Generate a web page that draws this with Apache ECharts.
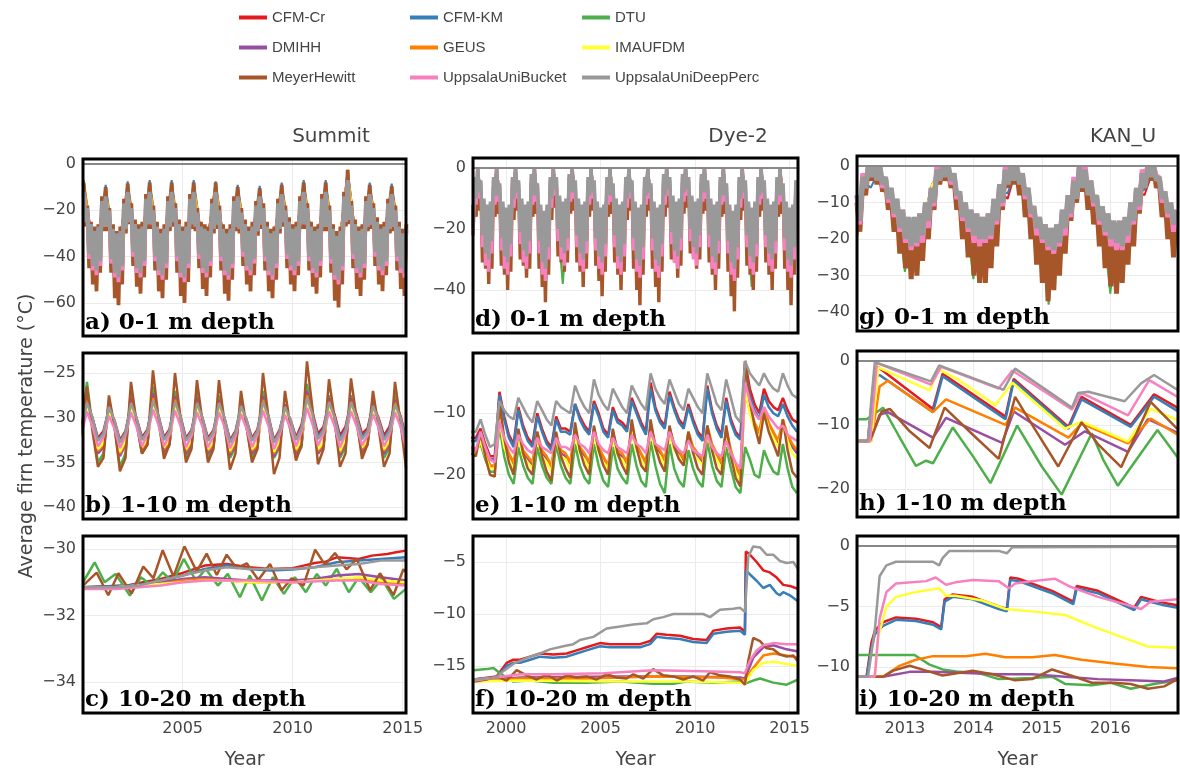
<!DOCTYPE html>
<html>
<head>
<meta charset="utf-8">
<title>Average firn temperature</title>
<script src="https://cdn.jsdelivr.net/npm/echarts@6/dist/echarts.min.js"></script>
<style>
html, body { margin: 0; padding: 0; background: #fff; }
#chart { width: 1180px; height: 773px; }
</style>
</head>
<body>
<div id="chart"></div>
<script>
//---------------- models / colours ----------------//
var models = ['CFM-Cr', 'CFM-KM', 'DTU', 'DMIHH', 'GEUS', 'IMAUFDM', 'MeyerHewitt', 'UppsalaUniBucket', 'UppsalaUniDeepPerc'];
var colors = ['#e41a1c', '#377eb8', '#4daf4a', '#984ea3', '#ff7f00', '#ffff33', '#a65628', '#f781bf', '#999999'];
var sites = ['Summit', 'Dye-2', 'KAN_U'];
var panelLabels = ['a) 0-1 m depth', 'd) 0-1 m depth', 'g) 0-1 m depth',
                   'b) 1-10 m depth', 'e) 1-10 m depth', 'h) 1-10 m depth',
                   'c) 10-20 m depth', 'f) 10-20 m depth', 'i) 10-20 m depth'];

// tick values: x per column, y per panel (row-major: a d g / b e h / c f i)
var xTicks = [[2005, 2010, 2015], [2000, 2005, 2010, 2015], [2013, 2014, 2015, 2016]];
var yTicks = [[0, -20, -40, -60], [0, -20, -40], [0, -10, -20, -30, -40],
              [-25, -30, -35, -40], [-10, -20], [0, -10, -20],
              [-30, -32, -34], [-5, -10, -15], [0, -5, -10]];

//---------------- a) Summit 0-1 m ----------------//
// monthly from Jul 2000 (noisy: alternating highs / lows)
var sum01_meyer = [
-8,-27,-18,-45,-25,-52,-27,-55,-26,-47,-14,-29,
-10,-29,-19,-47,-26,-58,-29,-61,-27,-52,-15,-30,
-8.5,-26,-17,-44,-24,-53,-26,-56,-25,-49,-13,-28,
-8,-28,-18,-46,-25,-55,-28,-58,-26,-50,-14,-29,
-8,-27,-17,-47,-24,-57,-27,-60,-25,-51,-13,-28,
-8,-29,-19,-45,-25,-54,-26,-57,-27,-49,-15,-30,
-8,-28,-18,-46,-26,-56,-28,-59,-26,-50,-14,-29,
-10,-30,-19,-44,-24,-52,-27,-55,-25,-48,-16,-31,
-10.5,-28,-17,-46,-25,-55,-28,-58,-27,-50,-15,-30,
-9,-27,-18,-45,-23,-52,-26,-55,-25,-48,-14,-28,
-8,-28,-17,-46,-25,-53,-27,-56,-26,-49,-13,-29,
-8,-29,-18,-47,-26,-59,-29,-62,-27,-52,-12,-27,
-2.5,-26,-16,-45,-24,-54,-27,-57,-26,-50,-14,-29,
-9,-28,-17,-44,-23,-52,-26,-55,-25,-48,-15,-30,
-9.5,-29,-18,-46,-25,-54,-28,-57,-26];
var sum01_bucket = [
-13,-25,-20,-41,-27,-46,-30,-48,-28,-44,-17,-27,
-15,-27,-21,-43,-29,-49,-31,-51,-30,-46,-18,-28,
-13,-25,-20,-40,-27,-47,-29,-49,-28,-44,-16,-26,
-13,-26,-21,-42,-28,-48,-31,-50,-29,-45,-17,-27,
-13,-25,-20,-42,-27,-49,-30,-51,-28,-45,-16,-26,
-13,-27,-22,-41,-28,-47,-29,-49,-30,-44,-18,-28,
-13,-26,-21,-42,-29,-48,-31,-50,-29,-45,-17,-27,
-15,-28,-22,-40,-27,-46,-30,-48,-28,-43,-19,-29,
-15,-26,-20,-42,-28,-48,-31,-50,-30,-45,-18,-28,
-14,-25,-21,-41,-26,-46,-29,-48,-28,-44,-17,-26,
-13,-26,-20,-42,-28,-47,-30,-49,-29,-44,-16,-27,
-13,-27,-21,-43,-29,-50,-32,-52,-30,-46,-15,-25,
-8,-24,-19,-41,-27,-47,-30,-49,-29,-45,-17,-27,
-14,-26,-20,-40,-26,-46,-29,-48,-28,-44,-18,-28,
-14,-27,-21,-42,-28,-47,-31,-49,-29];
var sum01_deep = [
-12,-25,-19,-39,-26,-44,-29,-46,-27,-42,-16,-27,
-14,-27,-20,-41,-28,-47,-30,-49,-29,-44,-17,-28,
-12,-25,-19,-38,-26,-45,-28,-47,-27,-42,-15,-26,
-12,-26,-20,-40,-27,-46,-30,-48,-28,-43,-16,-27,
-12,-25,-19,-40,-26,-47,-29,-49,-27,-43,-15,-26,
-12,-27,-21,-39,-27,-45,-28,-47,-29,-42,-17,-28,
-12,-26,-20,-40,-28,-46,-30,-48,-28,-43,-16,-27,
-14,-28,-21,-38,-26,-44,-29,-46,-27,-41,-18,-29,
-14,-26,-19,-40,-27,-46,-30,-48,-29,-43,-17,-28,
-13,-25,-20,-39,-25,-44,-28,-46,-27,-42,-16,-26,
-12,-26,-19,-40,-27,-45,-29,-47,-28,-42,-15,-27,
-12,-27,-20,-41,-28,-48,-31,-50,-29,-44,-14,-25,
-7,-24,-18,-39,-26,-45,-29,-47,-28,-43,-16,-27,
-13,-26,-19,-38,-25,-44,-28,-46,-27,-42,-17,-28,
-13,-27,-20,-40,-27,-45,-30,-47,-28];
// the other models only show at the summer maxima: July / January values
var sum01_cfmcr = [-9,-40,-11,-43,-9.5,-41,-9,-42,-9,-43,-9,-41,-9,-42,-11,-40,-11.5,-42,-10,-40,-9,-41,-9,-44,-3.5,-42,-10,-40,-10.5,-41];
var sum01_cfmkm = [-7,-41,-9,-44,-7.5,-42,-7,-43,-7,-44,-7,-42,-7.5,-43,-9,-41,-9.5,-43,-8,-41,-7,-42,-7,-45,-2.5,-43,-8,-41,-8.5,-42];
var sum01_dtu   = [-10,-43,-12,-46,-10,-43,-10,-44,-10,-45,-10,-43,-10,-44,-12,-42,-12,-44,-11,-42,-10,-43,-10,-46,-5,-44,-11,-42,-11.5,-43];
var sum01_dmihh = [-10,-40,-12,-42,-10,-40,-10,-41,-10,-42,-10,-40,-10,-41,-12,-39,-12,-41,-11,-39,-10,-40,-10,-43,-5,-41,-11,-39,-11,-40];
var sum01_geus  = [-7.5,-41,-10.5,-43,-9,-41,-8.5,-42,-8.5,-43,-8.5,-41,-8.5,-42,-10.5,-40,-11,-42,-9.5,-40,-8.5,-41,-8.5,-44,-3,-42,-9.5,-40,-10,-41];
var sum01_imau  = [-10,-42,-12,-44,-10.5,-42,-10,-43,-10,-44,-10,-42,-10,-43,-12,-41,-12.5,-43,-11,-41,-10,-42,-10,-45,-4.5,-43,-11,-41,-11.5,-42];

//---------------- d) Dye-2 0-1 m ----------------//
// monthly from Mar 1998
var dye01_meyer = [
-14,-22,-6,-16,
0,-14,-7,-31,-14,-33,-16,-38,-15,-33,-6,-16,
0,-15,-8,-32,-15,-35,-17,-40,-16,-34,-6,-17,
0,-14,-7,-30,-14,-32,-16,-36,-15,-33,-5,-16,
0,-15,-8,-33,-16,-39,-18,-44,-16,-35,-6,-17,
0,-13,-6,-29,-13,-31,-15,-34,-14,-31,-5,-15,
0,-14,-7,-31,-14,-34,-16,-39,-15,-33,-6,-16,
0,-14,-7,-32,-15,-37,-17,-42,-16,-34,-6,-16,
0,-15,-8,-31,-14,-35,-16,-40,-15,-34,-6,-17,
0,-14,-7,-33,-15,-40,-17,-45,-16,-35,-6,-16,
0,-14,-8,-33,-15,-39,-17,-44,-16,-34,-5,-16,
0,-13,-6,-30,-13,-31,-15,-36,-14,-32,-5,-15,
0,-13,-6,-28,-13,-29,-15,-33,-14,-30,-5,-15,
0,-14,-7,-31,-14,-35,-16,-40,-15,-33,-6,-16,
0,-15,-8,-34,-16,-42,-18,-47,-16,-36,-6,-17,
0,-14,-7,-32,-15,-35,-17,-40,-15,-34,-6,-16,
0,-14,-7,-31,-14,-35,-16,-40,-15,-33,-6,-16,
0,-15,-8,-33,-15,-40,-17,-45,-16,-35,-7,-17];
var dye01_bucket = [
-13,-22,-4,-12,
0,-10,-5,-26,-11,-32,-13,-34,-12,-28,-4,-12,
0,-11,-6,-27,-12,-33,-14,-35,-13,-29,-4,-13,
0,-10,-5,-25,-11,-31,-13,-33,-12,-28,-3,-12,
0,-11,-6,-28,-13,-35,-15,-37,-13,-30,-4,-13,
0,-9,-4,-24,-10,-30,-12,-32,-11,-27,-3,-11,
0,-10,-5,-26,-11,-32,-13,-34,-12,-28,-4,-12,
0,-10,-5,-27,-12,-33,-14,-35,-13,-29,-4,-12,
0,-11,-6,-26,-11,-33,-13,-35,-12,-29,-4,-13,
0,-10,-5,-27,-12,-34,-14,-36,-13,-30,-4,-12,
0,-10,-6,-27,-12,-34,-14,-36,-13,-29,-3,-12,
0,-9,-4,-25,-10,-31,-12,-33,-11,-27,-3,-11,
0,-9,-4,-24,-10,-30,-12,-32,-11,-26,-3,-11,
0,-10,-5,-26,-11,-33,-13,-35,-12,-28,-4,-12,
0,-11,-6,-28,-13,-35,-15,-37,-13,-30,-4,-13,
0,-10,-5,-26,-12,-33,-14,-35,-12,-29,-4,-12,
0,-10,-5,-26,-11,-32,-13,-34,-12,-28,-4,-12,
0,-11,-6,-27,-12,-34,-14,-36,-13,-30,-5,-13];
var dye01_deep = [
-12,-20,-3,-10,
0,-8,-4,-22,-10,-28,-12,-30,-11,-24,-3,-9,
0,-9,-5,-23,-11,-29,-13,-31,-12,-25,-3,-10,
0,-8,-4,-21,-10,-27,-12,-29,-11,-24,-2,-9,
0,-9,-5,-24,-12,-31,-14,-33,-12,-26,-3,-10,
0,-7,-3,-20,-9,-26,-11,-28,-10,-23,-2,-8,
0,-8,-4,-22,-10,-28,-12,-30,-11,-24,-3,-9,
0,-8,-4,-23,-11,-29,-13,-31,-12,-25,-3,-9,
0,-9,-5,-22,-10,-29,-12,-31,-11,-25,-3,-10,
0,-8,-4,-23,-11,-30,-13,-32,-12,-26,-3,-9,
0,-8,-5,-23,-11,-30,-13,-32,-12,-25,-2,-9,
0,-7,-3,-21,-9,-27,-11,-29,-10,-23,-2,-8,
0,-7,-3,-20,-9,-26,-11,-28,-10,-22,-2,-8,
0,-8,-4,-22,-10,-29,-12,-31,-11,-24,-3,-9,
0,-9,-5,-24,-12,-31,-14,-33,-12,-26,-3,-10,
0,-8,-4,-22,-11,-29,-13,-31,-11,-25,-3,-9,
0,-8,-4,-22,-10,-28,-12,-30,-11,-24,-3,-9,
0,-9,-5,-23,-11,-30,-13,-32,-12,-26,-4,-10];
// July / January values from Jul 1998
var dye01_cfmcr = [0,-25,0,-26,0,-24,0,-27,0,-23,0,-25,0,-26,0,-26,0,-27,0,-27,0,-24,0,-23,0,-26,0,-27,0,-26,0,-25,0,-27];
var dye01_cfmkm = [0,-26,0,-27,0,-25,0,-28,0,-24,0,-26,0,-27,0,-27,0,-28,0,-28,0,-25,0,-24,0,-27,0,-28,0,-27,0,-26,0,-28];
var dye01_dtu   = [0,-27,0,-28,0,-27,0,-29,0,-38,0,-28,0,-29,0,-28,0,-30,0,-30,0,-27,0,-26,0,-28,0,-30,0,-39,0,-28,0,-30];
var dye01_dmihh = [0,-24,0,-25,0,-23,0,-26,0,-22,0,-24,0,-25,0,-25,0,-26,0,-26,0,-23,0,-22,0,-25,0,-26,0,-25,0,-24,0,-26];
var dye01_geus  = [0,-25,0,-26,0,-24,0,-27,0,-23,0,-25,0,-26,0,-26,0,-27,0,-27,0,-24,0,-23,0,-26,0,-27,0,-26,0,-25,0,-27];
var dye01_imau  = [0,-26,0,-27,0,-25,0,-28,0,-24,0,-26,0,-27,0,-27,0,-28,0,-28,0,-25,0,-24,0,-27,0,-28,0,-27,0,-26,0,-28];

//---------------- g) KAN_U 0-1 m ----------------//
// half-monthly from 2012.3
var kan01_meyer = [
-10,-18,-4,-8,0,-4,0,-5,-1,-7,-4,-12,-8,-18,-11,-24,-14,-28,-16,-31,-15,-30,-14,-26,
-11,-20,-7,-12,-1,-5,0,-4,-1,-6,-3,-12,-8,-20,-11,-25,-13,-30,-14,-32,-15,-32,-14,-28,
-10,-22,-6,-12,-1,-6,0,-5,-1,-8,-3,-14,-7,-20,-12,-27,-15,-32,-17,-37,-18,-34,-17,-30,
-13,-24,-9,-15,-5,-10,0,-7,-2,-12,-5,-16,-9,-22,-12,-28,-14,-33,-16,-35,-16,-32,-15,-27,
-11,-22,-7,-13,-2,-6,0,-4,0,-6,-4,-14,-8,-20,-11,-25,-13];
var kan01_bucket = [
-8,-16,-2,-6,0,-2,0,-3,0,-6,-3,-10,-6,-14,-9,-18,-12,-21,-14,-23,-14,-22,-13,-21,
-10,-17,-6,-11,0,-4,0,-2,0,-5,-2,-9,-7,-15,-10,-18,-12,-21,-13,-22,-14,-21,-13,-20,
-9,-16,-5,-11,0,-3,0,-2,0,-4,-2,-9,-6,-14,-11,-19,-14,-21,-16,-23,-17,-24,-16,-22,
-12,-19,-8,-14,-3,-8,0,-3,0,-7,-4,-11,-8,-16,-11,-19,-13,-22,-15,-23,-15,-23,-14,-21,
-10,-16,-6,-12,-1,-3,0,-2,0,-3,-3,-10,-7,-14,-10,-18,-12];
var kan01_deep = [
-8,-15,-3,-6,0,-3,0,-4,0,-5,-3,-9,-6,-13,-9,-17,-12,-20,-14,-22,-14,-21,-13,-19,
-10,-15,-6,-10,-1,-4,0,-3,0,-4,-2,-8,-7,-14,-10,-17,-12,-19,-13,-20,-14,-20,-13,-19,
-9,-15,-5,-10,-1,-5,0,-4,0,-5,-2,-8,-6,-13,-11,-17,-14,-20,-16,-22,-17,-23,-16,-21,
-12,-17,-8,-13,-4,-9,0,-6,-1,-8,-4,-10,-8,-15,-11,-18,-13,-20,-15,-21,-15,-22,-14,-19,
-10,-15,-6,-11,-2,-6,0,-3,0,-4,-3,-9,-7,-13,-10,-16,-12];
// every 0.1 yr from 2012.3; these run inside the band and only poke out here and there
var kan01_cfmcr = [-11,-4,-2,-2.5,-6,-9.5,-13,-16,-18,-16.5,-12.5,-5,-2.5,-2.5,-5,-10.5,-14.5,-16,-17,-16,-12,-7,-9,-2.5,-5,-9.5,-14,-17,-19.5,-19,-14.5,-10,-4.5,-4,-7.5,-13,-16.5,-18,-18.5,-16.5,-12.5,-7,-8,-2.5,-5,-10,-13.5,-14];
var kan01_cfmkm = [-11,-4,-6,-2,-6,-9.5,-13,-16,-18,-16.5,-12.5,-5,-2,-2.5,-5,-10.5,-14.5,-16,-17,-16,-12,-7,-7.5,-2.5,-5,-9.5,-14,-17,-19.5,-19,-14.5,-10,-4,-4.5,-7.5,-13,-16.5,-18,-18.5,-16.5,-12.5,-7,-6.5,-2.5,-5,-10,-13.5,-14];
var kan01_dtu   = [-11,-4,-2,-2,-6,-9.5,-13,-29,-18,-16.5,-12.5,-5,-2,-2,-5,-10.5,-14.5,-31,-17,-16,-12,-7,-2.5,-2.5,-5,-9.5,-14,-17,-38,-19,-14.5,-10,-4,-4,-7.5,-13,-16.5,-35,-18.5,-16.5,-12.5,-7,-2,-2,-5,-10,-22,-14];
var kan01_dmihh = [-11,-4,-2,-2,-6,-9.5,-13,-16,-18,-16.5,-12.5,-5,-2,-2,-5,-10.5,-14.5,-16,-17,-16,-12,-7,-2.5,-2.5,-5,-9.5,-14,-17,-19.5,-19,-14.5,-10,-4,-4,-7.5,-13,-16.5,-18,-18.5,-16.5,-12.5,-7,-2,-2,-5,-10,-13.5,-14];
var kan01_geus  = [-20,-4,-2,-2,-6,-9.5,-13,-16,-18,-16.5,-12.5,-5,-2,-2,-5,-10.5,-14.5,-16,-17,-16,-12,-7,-2.5,-2.5,-5,-9.5,-14,-17,-19.5,-19,-14.5,-10,-4,-4,-7.5,-13,-16.5,-18,-18.5,-16.5,-12.5,-7,-2,-2,-5,-10,-13.5,-14];
var kan01_imau  = [-11,-4,-2,-2,-6,-9.5,-13,-16,-21,-16.5,-12.5,-5,-2,-2,-5,-10.5,-14.5,-16,-20,-16,-12,-7,-2.5,-2.5,-5,-9.5,-14,-17,-23,-19,-14.5,-10,-4,-4,-7.5,-13,-16.5,-18,-22,-16.5,-12.5,-7,-2,-2,-5,-10,-13.5,-14];

//---------------- b) Summit 1-10 m ----------------//
// quarterly from 2000.4
var sum110_cfmcr = [-31.3,-28.2,-30,-32.3,-31.5,-29,-30.3,-32.5,-31.5,-28.5,-30,-32.2,-31.3,-28.2,-29.8,-32.2,-31.3,-28.3,-29.8,-32.3,-31.4,-28.5,-30,-32.3,-31.4,-28.5,-30,-32.5,-31.5,-28.8,-30.2,-32.3,-31.3,-28.3,-29.8,-32.5,-31.4,-29,-30.2,-32.2,-30.8,-27.6,-29.4,-31.8,-31,-28.2,-29.6,-32,-31,-28.2,-29.6,-31.8,-31.2,-28.6,-30,-32,-31,-28.3,-29.8,-32.2];
var sum110_cfmkm = [-31.4,-28.4,-30.1,-32.5,-31.7,-29.2,-30.5,-32.7,-31.7,-28.7,-30.2,-32.4,-31.5,-28.4,-30,-32.4,-31.5,-28.5,-30,-32.5,-31.6,-28.7,-30.2,-32.5,-31.6,-28.7,-30.2,-32.7,-31.7,-29,-30.4,-32.5,-31.5,-28.5,-30,-32.7,-31.6,-29.2,-30.4,-32.4,-31.1,-27.9,-29.7,-32.1,-31.3,-28.5,-29.9,-32.3,-31.3,-28.5,-29.9,-32.1,-31.5,-28.9,-30.3,-32.3,-31.3,-28.6,-30.1,-32.5];
var sum110_dtu   = [-31.5,-26,-31,-35,-34,-28,-31,-35.5,-34,-27,-30.5,-34,-33,-26.5,-30.5,-34,-33,-27,-30.5,-34.5,-33.3,-27,-30.5,-34.5,-33.3,-27.5,-31,-34.5,-33.3,-28,-31,-34.5,-33.3,-27,-30.5,-34.5,-33.3,-28.5,-31.5,-34.5,-33.3,-26.2,-30,-34,-33,-27.5,-30.5,-34.5,-33.3,-27.5,-30.5,-34,-33,-28,-31,-34.5,-33.3,-27.5,-30.5,-34.5];
var sum110_dmihh = [-32,-27.5,-30.5,-34,-33.3,-28.5,-30.8,-34.3,-33,-27.8,-30.3,-33.7,-32.8,-27.3,-30,-33.8,-33,-27.6,-30.2,-34,-33,-27.8,-30.3,-34,-33.2,-28,-30.5,-34.2,-33,-28.3,-30.7,-34,-33.2,-27.6,-30.2,-34.3,-33,-28.5,-30.8,-34,-33,-27,-29.8,-34,-33.2,-27.8,-30.2,-34.2,-32.8,-27.8,-30.2,-33.8,-33,-28.3,-30.7,-34,-33,-28,-30.5,-34];
var sum110_geus  = [-32,-28,-30.3,-33.7,-33,-29,-30.8,-34,-32.7,-28.3,-30.3,-33.5,-32.5,-27.8,-30,-33.5,-32.7,-28,-30,-33.7,-32.7,-28.3,-30.3,-33.7,-32.9,-28.3,-30.3,-33.9,-32.7,-28.7,-30.6,-33.7,-33,-28,-30,-34,-32.7,-28.8,-30.6,-33.7,-32.7,-27.5,-29.8,-33.7,-32.9,-28.2,-30,-33.9,-32.5,-28.2,-30,-33.5,-32.7,-28.7,-30.5,-33.7,-32.7,-28.3,-30.3,-33.7];
var sum110_imau  = [-32,-28.5,-30.5,-33.5,-32.8,-29.5,-31,-33.8,-32.5,-28.8,-30.5,-33.3,-32.3,-28.3,-30.3,-33.3,-32.5,-28.5,-30.3,-33.5,-32.5,-28.8,-30.5,-33.5,-32.7,-28.8,-30.5,-33.7,-32.5,-29.2,-30.8,-33.5,-32.8,-28.5,-30.3,-33.8,-32.5,-29.3,-30.8,-33.5,-32.5,-28,-30,-33.5,-32.7,-28.7,-30.3,-33.7,-32.3,-28.7,-30.3,-33.3,-32.5,-29.2,-30.7,-33.5,-32.5,-28.8,-30.5,-33.5];
var sum110_meyer = [-31.5,-26.5,-31.5,-35.5,-34.5,-27.5,-31,-36,-34.5,-26,-30.5,-34,-33,-24.7,-30,-34.6,-33,-25,-30,-35,-33.5,-25.8,-30.5,-35,-33.5,-25.8,-30.5,-35.8,-34,-27,-31,-35,-33.5,-25,-30,-36.3,-34.5,-27,-31,-34.8,-33,-23.7,-29,-35.2,-33.5,-25.7,-30,-35.5,-34,-25.6,-30,-34.6,-33,-27,-31,-35.5,-34,-26,-30.5,-35.6];
var sum110_bucket = [-31.8,-29.3,-31,-33.2,-32.2,-29.8,-31.2,-33.4,-32,-29.4,-31,-33.2,-31.8,-29.1,-30.8,-33.2,-31.9,-29.2,-30.9,-33.3,-32,-29.4,-31,-33.3,-32,-29.4,-31,-33.4,-32.1,-29.6,-31.2,-33.3,-31.9,-29.2,-30.9,-33.5,-32,-29.7,-31.2,-33.2,-31.6,-28.9,-30.7,-33.1,-31.8,-29.3,-30.9,-33.3,-31.8,-29.3,-30.9,-33.1,-32,-29.6,-31.1,-33.2,-31.9,-29.4,-31,-33.4];
var sum110_deep  = [-31.5,-28.3,-30,-32.6,-31.8,-28.8,-30.3,-32.8,-31.7,-28.4,-30,-32.5,-31.5,-28.1,-29.8,-32.5,-31.5,-28.2,-29.9,-32.6,-31.6,-28.4,-30,-32.6,-31.6,-28.4,-30,-32.8,-31.7,-28.7,-30.2,-32.6,-31.5,-28.2,-29.9,-32.8,-31.6,-28.8,-30.2,-32.5,-31.2,-27.8,-29.6,-32.4,-31.4,-28.3,-29.9,-32.6,-31.4,-28.3,-29.9,-32.4,-31.6,-28.7,-30.2,-32.5,-31.5,-28.5,-30,-32.7];

//---------------- e) Dye-2 1-10 m ----------------//
// quarterly from 1998.15
var dye110_cfmcr = [-14,-14,-12.5,-15,-17,-17,-6.5,-10.5,-13.5,-15,-9,-12,-14,-15,-10,-12.5,-14.5,-15.5,-10.5,-12.5,-12.5,-13,-8.5,-10.5,-12,-13,-8,-10,-12.5,-13.5,-9,-11,-11.5,-12.5,-7.5,-9.5,-11.5,-13,-5,-9,-11,-12,-6.5,-9,-11,-12,-8.5,-11,-13,-14,-5.5,-9.5,-12,-13.5,-7.5,-11,-13,-14,-1.5,-6,-8.5,-10,-6,-8,-9,-9.5,-7.5,-9.5,-11,-11.5];
var dye110_cfmkm = [-14.5,-14.5,-13,-15.5,-17.5,-17.5,-7,-11,-14,-15.5,-9.5,-12.5,-14.5,-15.5,-10.5,-13,-15,-16,-11,-13,-13,-13.5,-8.5,-11,-12.5,-13.5,-8.5,-10.5,-13,-14,-9.5,-11.5,-12,-13,-8,-10,-12,-13.5,-6,-9.5,-11.5,-12.5,-7,-9.5,-11.5,-12.5,-9,-11.5,-13.5,-14.5,-6,-10,-12.5,-14,-8,-11.5,-13.5,-14.3,-2.5,-7,-9.5,-11,-7,-9,-10,-10.5,-8.5,-10.5,-12,-13];
var dye110_dtu   = [-16,-16,-15,-17.5,-19.5,-19.5,-12,-17,-20,-21.5,-15.5,-18.5,-20.5,-21.5,-15.5,-18.5,-20.5,-21.5,-15,-18.5,-20.5,-21.5,-15,-18.5,-20.5,-21.5,-15,-18.5,-21,-22,-15.5,-19,-20.5,-21.5,-15,-18.5,-21,-22,-14.5,-18.5,-21.5,-23,-15,-19,-21,-22,-16,-19,-21,-22,-14.5,-18.5,-21,-22,-15.5,-19,-22,-23,-15.5,-17.5,-20,-20.5,-16,-18,-19.5,-20,-15,-19,-22,-23];
var dye110_dmihh = [-15.5,-16,-14,-16.5,-18.5,-19,-10.5,-15,-17,-18.5,-14,-16.5,-17.5,-18.5,-13.5,-16.5,-17.5,-19,-14,-16.5,-17,-18.5,-13,-16,-17,-18.5,-13,-16,-17.5,-19,-13.5,-16.5,-17,-18.5,-12.5,-15.5,-17,-18.5,-12.5,-15.5,-16.5,-18,-13,-15.5,-16.5,-18,-13.5,-16,-17,-18,-12.5,-15.5,-17,-18.5,-13,-16.5,-19,-20.5,-6.5,-9.5,-12,-13.5,-9.5,-12,-13.5,-15,-11.5,-14,-15.5,-16.5];
var dye110_geus  = [-15.5,-16,-14,-16.5,-18.5,-18.5,-10,-14.5,-16.5,-18,-13.5,-16,-17,-18,-13,-16,-17,-18.5,-13.5,-16,-16.5,-18,-12.5,-15.5,-16.5,-18,-12.5,-15.5,-17,-18.5,-13,-16,-16.5,-18,-12,-15,-16.5,-18,-12,-15,-16,-17.5,-12.5,-15,-16,-17.5,-13,-15.5,-16.5,-17.5,-12,-15,-16.5,-18,-12.5,-16,-18.5,-20,-5.5,-9,-11.5,-13,-9,-11.5,-13,-14.5,-11,-13.5,-15,-16];
var dye110_imau  = [-16,-16.5,-14.5,-17,-19,-19,-11,-15.5,-17.5,-19,-14,-17,-18,-19,-14,-17,-18,-19.5,-14,-17,-17.5,-19,-13.5,-16.5,-17.5,-19,-13.5,-16.5,-18,-19,-14,-17,-17.5,-19,-13,-16,-17.5,-19,-13,-16,-17,-18.5,-13.5,-16,-17,-18.5,-13.5,-16.5,-17.5,-18.5,-13.5,-16,-17.5,-19,-14,-17,-19.5,-21,-6,-10,-12.5,-14,-10,-12.5,-14,-15.5,-12,-14.5,-16.5,-17.5];
var dye110_meyer = [-16.5,-17,-13,-17,-20,-20.3,-8,-14,-18,-20,-12.5,-16.5,-19,-20,-13,-17,-19.5,-21,-13,-17,-19,-20.5,-11.5,-16,-18.5,-20,-12,-16,-18.5,-20,-12.5,-16.5,-18.5,-20,-11,-15.5,-18.5,-19.5,-11,-15.5,-18,-19.5,-12,-15.5,-17.5,-18.5,-13,-16.5,-19,-20,-12,-16,-19,-20,-12,-17,-20.5,-21.9,-1.5,-8,-12,-15,-10,-13,-15,-17,-11,-16,-19.5,-20.5];
var dye110_bucket = [-16,-16,-13,-15.5,-17.5,-18,-11.3,-14,-15.5,-16.5,-13.5,-15,-16,-16.5,-14,-15.5,-16,-16.5,-14,-15.5,-15.5,-16,-13.5,-15,-15.5,-16.5,-13,-15,-16,-16.5,-14,-15.5,-16,-16.5,-13.5,-15,-15.5,-16.5,-13,-15,-15.5,-16,-13,-15,-16,-16.5,-14.5,-16,-16.5,-17,-13.5,-15.5,-16.5,-17,-14.5,-16.5,-18,-19,-5,-8,-10,-11,-9,-10.5,-11.5,-12.5,-12,-13.5,-14,-14.5];
var dye110_deep  = [-13,-13,-11,-13.5,-15.5,-15,-8,-9.5,-10.5,-11,-7.5,-9,-10.5,-11.5,-8,-9.5,-11,-12,-8,-9,-9.5,-10,-5.5,-7.5,-9,-10,-4.5,-7,-8.5,-9.5,-6,-7.5,-9,-10,-5.5,-7,-8.5,-9.5,-3.5,-6,-7.5,-8.5,-4.5,-6.5,-8.5,-9.5,-6,-7.5,-9,-10,-3.5,-6,-8.5,-9.5,-4.5,-7.5,-10.5,-11.5,-1.5,-3.5,-4.5,-5.5,-3.5,-5,-6,-6.5,-3.5,-5.5,-7,-7.5];

//---------------- h) KAN_U 1-10 m  [year, value] ----------------//
var kan110_cfmcr = [[2012.32,-12.5],[2012.46,-12.5],[2012.56,-1.3],[2012.61,-1.0],[2013.41,-7.5],[2013.55,-2.0],[2014.47,-8.7],[2014.59,-2.8],[2015.39,-10.3],[2015.58,-5.6],[2016.3,-10.0],[2016.64,-5.2],[2016.98,-7.3]];
var kan110_cfmkm = [[2012.32,-12.5],[2012.46,-12.5],[2012.56,-2.5],[2012.63,-2.2],[2013.41,-8.0],[2013.55,-2.4],[2014.47,-9.1],[2014.59,-3.1],[2015.39,-10.6],[2015.58,-6.0],[2016.3,-10.3],[2016.64,-5.6],[2016.98,-7.8]];
var kan110_dtu   = [[2012.32,-9.1],[2012.44,-9.1],[2012.68,-7.3],[2012.9,-11.5],[2013.16,-16.4],[2013.31,-15.6],[2013.41,-16.0],[2013.7,-10.4],[2014.0,-15.0],[2014.25,-19.1],[2014.64,-10.1],[2015.0,-16.5],[2015.29,-20.9],[2015.73,-11.3],[2015.9,-15.5],[2016.11,-19.5],[2016.69,-10.8],[2016.98,-15.0]];
var kan110_dmihh = [[2012.32,-12.5],[2012.49,-12.5],[2012.63,-8.4],[2012.75,-8.0],[2013.41,-12.0],[2013.6,-8.9],[2014.42,-12.8],[2014.59,-7.9],[2015.34,-13.1],[2015.63,-11.0],[2016.26,-14.2],[2016.55,-9.1],[2016.98,-11.2]];
var kan110_geus  = [[2012.32,-12.5],[2012.51,-12.5],[2012.63,-4.0],[2012.75,-3.1],[2013.41,-8.0],[2013.6,-6.0],[2014.47,-10.0],[2014.61,-7.3],[2015.39,-12.0],[2015.58,-9.8],[2016.26,-12.9],[2016.59,-9.0],[2016.98,-11.5]];
var kan110_imau  = [[2012.32,-12.5],[2012.51,-12.5],[2012.61,-1.0],[2013.36,-4.6],[2013.5,-1.3],[2013.79,-3.0],[2014.32,-6.9],[2014.57,-3.4],[2015.34,-10.6],[2015.58,-9.5],[2016.26,-12.6],[2016.59,-7.5],[2016.98,-9.2]];
var kan110_meyer = [[2012.32,-12.5],[2012.49,-12.5],[2012.66,-7.9],[2012.78,-7.5],[2013.07,-11.0],[2013.36,-13.6],[2013.58,-7.3],[2013.99,-11.5],[2014.37,-15.3],[2014.61,-5.6],[2014.86,-10.0],[2015.24,-16.5],[2015.58,-9.6],[2015.82,-13.0],[2016.16,-16.6],[2016.59,-6.4],[2016.98,-10.6]];
var kan110_bucket = [[2012.32,-12.5],[2012.49,-12.5],[2012.59,-0.3],[2013.38,-3.7],[2013.53,-0.9],[2014.37,-4.3],[2014.57,-1.5],[2015.44,-7.6],[2015.58,-5.0],[2016.26,-8.5],[2016.57,-3.0],[2016.98,-5.6]];
var kan110_deep  = [[2012.32,-12.5],[2012.46,-12.5],[2012.51,-6],[2012.56,-0.2],[2013.38,-3.2],[2013.5,-0.7],[2014.37,-4.2],[2014.44,-4.5],[2014.61,-1.2],[2015.44,-7.3],[2015.53,-5.0],[2015.68,-4.8],[2016.21,-6.3],[2016.45,-3.5],[2016.64,-2.2],[2016.98,-4.5]];

//---------------- c) Summit 10-20 m ----------------//
var sum1020_cfmcr = [[2000.47,-31.15],[2002.5,-31.1],[2003.2,-31.0],[2004.0,-30.9],[2005.0,-30.72],[2006.0,-30.5],[2007.0,-30.45],[2008.0,-30.55],[2009.0,-30.6],[2010.0,-30.58],[2010.5,-30.5],[2011.0,-30.42],[2011.5,-30.38],[2012.0,-30.25],[2012.6,-30.28],[2013.0,-30.3],[2013.6,-30.2],[2014.3,-30.15],[2014.7,-30.1],[2015.15,-30.05]];
var sum1020_cfmkm = [[2000.47,-31.15],[2002.5,-31.1],[2003.2,-31.05],[2004.0,-30.95],[2005.0,-30.8],[2006.0,-30.6],[2007.0,-30.5],[2008.0,-30.6],[2009.0,-30.65],[2010.0,-30.62],[2011.0,-30.55],[2012.0,-30.4],[2013.0,-30.35],[2014.0,-30.3],[2015.15,-30.25]];
var sum1020_dtu   = [[2000.47,-31.0],[2001.0,-30.4],[2001.45,-31.0],[2001.95,-30.75],[2002.6,-31.4],[2003.1,-30.85],[2003.6,-31.1],[2004.1,-30.7],[2004.55,-31.0],[2005.05,-30.3],[2005.6,-30.95],[2006.05,-30.6],[2006.6,-31.1],[2007.05,-30.75],[2007.6,-31.45],[2008.05,-30.8],[2008.6,-31.55],[2009.1,-30.85],[2009.6,-31.35],[2010.1,-30.85],[2010.6,-31.3],[2011.1,-30.75],[2011.5,-31.1],[2012.0,-30.6],[2012.55,-31.3],[2013.0,-30.85],[2013.55,-31.3],[2014.05,-30.9],[2014.6,-31.5],[2015.15,-31.2]];
var sum1020_dmihh = [[2000.47,-31.15],[2002.0,-31.15],[2003.0,-31.1],[2004.0,-31.0],[2005.0,-30.9],[2006.0,-30.85],[2007.0,-30.9],[2008.0,-30.95],[2010.0,-30.95],[2011.0,-30.9],[2012.0,-30.8],[2013.0,-30.75],[2014.0,-30.85],[2015.15,-30.95]];
var sum1020_geus  = [[2000.47,-31.15],[2002.0,-31.15],[2003.0,-31.1],[2004.0,-31.05],[2005.0,-30.95],[2006.0,-30.9],[2007.0,-30.95],[2008.0,-31.0],[2010.0,-31.0],[2011.0,-30.95],[2012.0,-30.9],[2013.0,-30.9],[2014.0,-31.0],[2015.15,-31.05]];
var sum1020_imau  = [[2000.47,-31.15],[2002.0,-31.15],[2003.0,-31.1],[2004.0,-31.05],[2005.0,-31.0],[2006.0,-30.95],[2007.0,-30.95],[2008.0,-31.0],[2010.0,-31.0],[2011.0,-30.95],[2012.0,-30.9],[2013.0,-30.85],[2014.0,-30.95],[2015.15,-31.0]];
var sum1020_meyer = [[2000.47,-31.1],[2000.56,-31.14],[2001.09,-30.71],[2001.62,-31.39],[2002.08,-30.73],[2002.68,-31.34],[2003.21,-30.53],[2003.67,-30.88],[2004.09,-30.04],[2004.58,-30.83],[2005.08,-29.92],[2005.64,-30.68],[2006.09,-30.14],[2006.55,-30.78],[2007.0,-30.17],[2007.45,-30.58],[2007.91,-30.43],[2008.44,-30.93],[2008.97,-30.45],[2009.5,-31.24],[2009.95,-30.88],[2010.49,-31.1],[2011.02,-30.02],[2011.47,-30.48],[2011.92,-30.12],[2012.45,-30.61],[2012.91,-30.3],[2013.52,-31.24],[2013.97,-30.73],[2014.58,-31.39],[2015.03,-30.61],[2015.15,-30.7]];
var sum1020_bucket = [[2000.47,-31.2],[2002.0,-31.2],[2003.0,-31.15],[2004.0,-31.1],[2005.0,-31.0],[2006.0,-30.95],[2008.0,-30.95],[2010.0,-31.0],[2012.0,-30.95],[2013.0,-30.95],[2014.0,-31.05],[2015.15,-31.1]];
var sum1020_deep  = [[2000.47,-31.15],[2002.0,-31.15],[2003.0,-31.1],[2004.0,-30.95],[2005.0,-30.8],[2006.0,-30.65],[2007.0,-30.55],[2008.0,-30.6],[2009.0,-30.6],[2010.0,-30.6],[2011.0,-30.55],[2012.0,-30.5],[2013.0,-30.45],[2014.0,-30.35],[2015.15,-30.35]];

//---------------- f) Dye-2 10-20 m ----------------//
var dye1020_cfmcr = [[1998.27,-16.3],[1999.5,-16.0],[2000.03,-14.7],[2000.38,-14.4],[2000.74,-14.4],[2001.27,-14.1],[2001.8,-13.8],[2002.5,-13.9],[2003.21,-13.8],[2003.73,-13.5],[2004.26,-13.2],[2004.97,-12.8],[2005.5,-12.9],[2006.38,-12.9],[2007.09,-12.9],[2007.62,-12.6],[2007.97,-11.9],[2008.5,-12.0],[2009.2,-12.1],[2009.9,-12.4],[2010.61,-12.5],[2010.97,-11.6],[2011.67,-11.4],[2012.38,-11.3],[2012.64,-11.7],[2012.69,-4.0],[2012.91,-4.3],[2013.26,-5.0],[2013.61,-5.8],[2013.96,-6.0],[2014.32,-6.5],[2014.67,-7.2],[2015.02,-7.3],[2015.46,-7.6]];
var dye1020_cfmkm = [[1998.27,-16.3],[1999.5,-16.1],[2000.03,-15.0],[2000.38,-14.7],[2000.74,-14.7],[2001.27,-14.4],[2001.8,-14.1],[2002.5,-14.2],[2003.21,-14.1],[2003.73,-13.8],[2004.26,-13.5],[2004.97,-13.1],[2005.5,-13.2],[2006.38,-13.2],[2007.09,-13.2],[2007.62,-12.9],[2007.97,-12.2],[2008.5,-12.3],[2009.2,-12.4],[2009.9,-12.7],[2010.61,-12.8],[2010.97,-11.9],[2011.67,-11.7],[2012.38,-11.6],[2012.64,-12.0],[2012.69,-5.8],[2012.91,-6.2],[2013.26,-6.8],[2013.61,-7.5],[2013.96,-7.2],[2014.32,-8.0],[2014.49,-8.2],[2014.67,-7.9],[2015.02,-8.2],[2015.46,-8.8]];
var dye1020_dtu   = [[1998.27,-15.4],[1998.97,-15.3],[1999.33,-15.2],[1999.68,-15.7],[2000.03,-16.1],[2000.38,-16.5],[2001.27,-16.4],[2002.5,-16.6],[2004.26,-16.6],[2006.03,-16.5],[2007.79,-16.7],[2008.85,-16.7],[2009.55,-16.5],[2010.97,-16.6],[2012.38,-16.5],[2012.64,-16.7],[2013.08,-16.4],[2013.44,-16.2],[2014.14,-16.6],[2014.85,-16.8],[2015.46,-16.3]];
var dye1020_dmihh = [[1998.27,-16.5],[2000.74,-16.1],[2006.03,-16.0],[2009.55,-16.0],[2012.38,-16.1],[2012.64,-16.2],[2013.08,-14.2],[2013.61,-13.2],[2014.14,-13.0],[2014.85,-13.4],[2015.46,-13.6]];
var dye1020_geus  = [[1998.27,-16.5],[2000.74,-16.2],[2004.26,-16.2],[2007.79,-16.0],[2011.32,-16.1],[2012.64,-16.3],[2013.08,-15.2],[2013.61,-14.0],[2014.14,-13.8],[2014.85,-14.0],[2015.46,-14.2]];
var dye1020_imau  = [[1998.27,-16.5],[2000.74,-16.4],[2006.03,-16.5],[2009.55,-16.5],[2012.38,-16.6],[2012.64,-16.7],[2013.08,-15.4],[2013.61,-14.7],[2014.14,-14.6],[2014.85,-14.8],[2015.46,-15.0]];
var dye1020_meyer = [[1998.27,-16.5],[1998.97,-16.3],[1999.5,-16.0],[2000.03,-16.4],[2000.56,-15.4],[2001.09,-15.9],[2001.62,-16.3],[2002.15,-15.8],[2002.68,-16.4],[2003.21,-15.9],[2003.73,-16.1],[2004.26,-16.0],[2004.79,-16.3],[2005.32,-15.8],[2005.85,-16.1],[2006.38,-16.2],[2006.73,-15.8],[2007.26,-16.2],[2007.79,-15.3],[2008.32,-15.9],[2008.85,-16.0],[2009.38,-16.3],[2009.9,-16.0],[2010.43,-16.4],[2010.79,-15.6],[2011.32,-15.9],[2011.85,-16.0],[2012.38,-16.3],[2012.64,-16.8],[2012.82,-14.5],[2013.08,-12.3],[2013.44,-12.6],[2013.79,-13.3],[2014.14,-13.4],[2014.49,-13.9],[2014.85,-14.1],[2015.2,-14.0],[2015.46,-14.6]];
var dye1020_bucket = [[1998.27,-16.4],[2000.74,-15.8],[2002.5,-15.8],[2005.15,-15.7],[2007.79,-15.4],[2010.43,-15.5],[2012.38,-15.6],[2012.64,-15.7],[2012.91,-14.5],[2013.26,-13.5],[2013.61,-13.0],[2014.14,-12.8],[2014.85,-12.9],[2015.46,-12.9]];
var dye1020_deep  = [[1998.27,-16.3],[1999.5,-16.1],[1999.85,-15.5],[2000.38,-14.8],[2000.74,-14.5],[2001.27,-14.1],[2001.8,-13.8],[2002.32,-13.4],[2003.03,-13.1],[2003.56,-12.9],[2003.91,-12.5],[2004.62,-12.2],[2005.32,-11.4],[2006.03,-11.2],[2006.73,-11.0],[2007.44,-10.9],[2007.79,-10.5],[2008.32,-10.3],[2008.85,-10.0],[2009.55,-10.0],[2010.43,-10.0],[2010.79,-10.3],[2011.32,-9.6],[2012.02,-9.5],[2012.38,-9.4],[2012.64,-9.8],[2012.82,-4.5],[2013.08,-3.5],[2013.44,-3.6],[2013.79,-4.3],[2014.14,-4.3],[2014.49,-4.9],[2014.85,-5.1],[2015.2,-5.0],[2015.46,-5.7]];

//---------------- i) KAN_U 10-20 m ----------------//
var kan1020_cfmcr = [[2012.32,-10.8],[2012.44,-10.8],[2012.51,-8.0],[2012.56,-7.0],[2012.68,-6.3],[2012.87,-5.9],[2013.16,-6.0],[2013.41,-6.3],[2013.53,-6.7],[2013.58,-4.4],[2013.7,-4.0],[2013.99,-4.2],[2014.37,-5.0],[2014.49,-5.2],[2014.54,-2.6],[2014.66,-2.7],[2015.15,-3.7],[2015.46,-4.6],[2015.51,-3.3],[2015.82,-3.7],[2016.35,-5.1],[2016.45,-4.2],[2016.64,-4.5],[2016.79,-4.7],[2016.98,-4.9]];
var kan1020_cfmkm = [[2012.32,-10.8],[2012.44,-10.8],[2012.51,-8.5],[2012.56,-7.3],[2012.68,-6.6],[2012.87,-6.1],[2013.16,-6.2],[2013.41,-6.5],[2013.53,-6.9],[2013.58,-4.6],[2013.7,-4.2],[2013.99,-4.4],[2014.37,-5.2],[2014.49,-5.4],[2014.54,-2.8],[2014.66,-2.9],[2015.15,-3.9],[2015.46,-4.8],[2015.51,-3.5],[2015.82,-3.9],[2016.35,-5.3],[2016.45,-4.4],[2016.64,-4.7],[2016.79,-4.9],[2016.98,-5.1]];
var kan1020_dtu   = [[2012.32,-9.0],[2012.92,-9.0],[2013.14,-9.0],[2013.36,-9.8],[2013.55,-10.2],[2013.79,-10.4],[2014.08,-10.5],[2014.37,-11.0],[2014.86,-10.9],[2015.15,-10.8],[2015.34,-11.4],[2015.73,-11.5],[2016.01,-11.3],[2016.3,-11.8],[2016.64,-11.4],[2016.98,-11.1]];
var kan1020_dmihh = [[2012.32,-10.8],[2012.68,-10.8],[2013.07,-10.4],[2013.41,-10.4],[2013.89,-10.5],[2014.37,-10.6],[2014.86,-10.6],[2015.34,-10.8],[2015.82,-11.0],[2016.3,-11.1],[2016.79,-11.2],[2016.98,-10.9]];
var kan1020_geus  = [[2012.32,-10.8],[2012.68,-10.8],[2012.92,-9.9],[2013.16,-9.4],[2013.41,-9.1],[2013.89,-9.1],[2014.18,-8.9],[2014.47,-9.2],[2014.86,-9.2],[2015.19,-9.0],[2015.58,-9.4],[2016.06,-9.7],[2016.55,-10.0],[2016.98,-10.1]];
var kan1020_imau  = [[2012.32,-10.8],[2012.56,-10.8],[2012.61,-7.5],[2012.73,-5.0],[2012.87,-4.2],[2013.16,-3.8],[2013.5,-3.5],[2013.6,-4.1],[2013.74,-4.1],[2014.13,-4.5],[2014.47,-5.2],[2014.86,-5.4],[2015.34,-5.7],[2015.82,-6.8],[2016.3,-7.8],[2016.55,-8.3],[2016.98,-8.4]];
var kan1020_meyer = [[2012.32,-10.8],[2012.68,-10.8],[2012.83,-10.3],[2013.07,-9.9],[2013.31,-10.3],[2013.55,-10.7],[2013.99,-10.3],[2014.28,-10.6],[2014.61,-11.1],[2014.86,-11.0],[2015.15,-10.2],[2015.48,-10.8],[2015.73,-11.3],[2016.06,-11.3],[2016.3,-11.4],[2016.55,-11.8],[2016.79,-11.6],[2016.98,-11.0]];
var kan1020_bucket = [[2012.32,-10.8],[2012.56,-10.8],[2012.63,-6.0],[2012.73,-3.8],[2012.87,-3.1],[2013.31,-2.9],[2013.45,-2.6],[2013.6,-3.2],[2013.74,-3.0],[2013.99,-2.8],[2014.37,-2.9],[2014.52,-3.5],[2014.61,-3.1],[2014.86,-2.9],[2015.19,-2.7],[2015.39,-3.3],[2015.58,-3.7],[2015.82,-4.2],[2016.21,-4.8],[2016.45,-5.2],[2016.59,-4.6],[2016.98,-4.4]];
var kan1020_deep  = [[2012.32,-10.8],[2012.46,-10.8],[2012.56,-7.0],[2012.63,-2.5],[2012.73,-1.6],[2012.87,-1.3],[2013.41,-1.3],[2013.5,-1.6],[2013.55,-1.0],[2013.65,-0.4],[2014.37,-0.4],[2014.49,-0.6],[2014.57,-0.1],[2016.98,-0.05]];

//---------------- layout ----------------//
// [left, top, width, height] of each panel, row-major
var boxes = [[83, 159, 323, 177], [473, 158, 325, 175], [857, 156, 321, 175],
             [83, 353, 323, 166], [473, 353, 325, 166], [857, 351, 321, 166],
             [83, 536, 323, 177], [473, 536, 325, 177], [857, 536, 321, 177]];
var xRanges = [[2000.47, 2015.15], [1998.25, 2015.45], [2012.3, 2016.99]];
var yRanges = [[-74.3, 2.16], [-54.1, 3.28], [-45.2, 2.74],
               [-41.33, -22.76], [-27.2, -0.2], [-24.4, 1.56],
               [-34.93, -29.61], [-19.52, -2.5], [-13.8, 0.83]];
// the noisy 0-1 m series are drawn thick enough to fill in as a band
var bandWidth = [3.8, 3.4, 5];

// turn evenly spaced values into [year, value]
function even(t0, dt, vals) {
    var out = [];
    for (var i = 0; i < vals.length; i++) {
        out.push([t0 + i * dt, vals[i]]);
    }
    return out;
}

var m = 1 / 12;
var panelData = [
    [even(2000.5, 0.5, sum01_cfmcr), even(2000.5, 0.5, sum01_cfmkm), even(2000.5, 0.5, sum01_dtu), even(2000.5, 0.5, sum01_dmihh),
     even(2000.5, 0.5, sum01_geus), even(2000.5, 0.5, sum01_imau), even(2000.5, m, sum01_meyer), even(2000.5, m, sum01_bucket), even(2000.5, m, sum01_deep)],
    [even(1998.5, 0.5, dye01_cfmcr), even(1998.5, 0.5, dye01_cfmkm), even(1998.5, 0.5, dye01_dtu), even(1998.5, 0.5, dye01_dmihh),
     even(1998.5, 0.5, dye01_geus), even(1998.5, 0.5, dye01_imau), even(1998 + 2 * m, m, dye01_meyer), even(1998 + 2 * m, m, dye01_bucket), even(1998 + 2 * m, m, dye01_deep)],
    [even(2012.3, 0.1, kan01_cfmcr), even(2012.3, 0.1, kan01_cfmkm), even(2012.3, 0.1, kan01_dtu), even(2012.3, 0.1, kan01_dmihh),
     even(2012.3, 0.1, kan01_geus), even(2012.3, 0.1, kan01_imau),
     even(2012.3, 1 / 24, kan01_meyer), even(2012.3, 1 / 24, kan01_bucket), even(2012.3, 1 / 24, kan01_deep)],
    [even(2000.4, 0.25, sum110_cfmcr), even(2000.4, 0.25, sum110_cfmkm), even(2000.4, 0.25, sum110_dtu), even(2000.4, 0.25, sum110_dmihh),
     even(2000.4, 0.25, sum110_geus), even(2000.4, 0.25, sum110_imau), even(2000.4, 0.25, sum110_meyer), even(2000.4, 0.25, sum110_bucket), even(2000.4, 0.25, sum110_deep)],
    [even(1998.15, 0.25, dye110_cfmcr), even(1998.15, 0.25, dye110_cfmkm), even(1998.15, 0.25, dye110_dtu), even(1998.15, 0.25, dye110_dmihh),
     even(1998.15, 0.25, dye110_geus), even(1998.15, 0.25, dye110_imau), even(1998.15, 0.25, dye110_meyer), even(1998.15, 0.25, dye110_bucket), even(1998.15, 0.25, dye110_deep)],
    [kan110_cfmcr, kan110_cfmkm, kan110_dtu, kan110_dmihh, kan110_geus, kan110_imau, kan110_meyer, kan110_bucket, kan110_deep],
    [sum1020_cfmcr, sum1020_cfmkm, sum1020_dtu, sum1020_dmihh, sum1020_geus, sum1020_imau, sum1020_meyer, sum1020_bucket, sum1020_deep],
    [dye1020_cfmcr, dye1020_cfmkm, dye1020_dtu, dye1020_dmihh, dye1020_geus, dye1020_imau, dye1020_meyer, dye1020_bucket, dye1020_deep],
    [kan1020_cfmcr, kan1020_cfmkm, kan1020_dtu, kan1020_dmihh, kan1020_geus, kan1020_imau, kan1020_meyer, kan1020_bucket, kan1020_deep]
];
var zeroLinePanels = [0, 1, 2, 5, 8];

var tickFont = 'DejaVu Sans';
function minusSign(v) { return String(v).replace('-', '\u2212'); }

var grids = [], xAxes = [], yAxes = [], series = [], graphics = [];
for (var p = 0; p < 9; p++) {
    var col = p % 3, row = Math.floor(p / 3), b = boxes[p];
    grids.push({ left: b[0], top: b[1], width: b[2], height: b[3], containLabel: false });
    xAxes.push({
        type: 'value', gridIndex: p, min: xRanges[col][0], max: xRanges[col][1],
        axisLine: { show: false },
        axisTick: { show: false, customValues: xTicks[col] },
        axisLabel: { show: row === 2, customValues: xTicks[col], color: '#444', fontSize: 16, fontFamily: tickFont, margin: 8,
            formatter: function (v) { return String(v); } },
        splitLine: { show: true, lineStyle: { color: '#ebebeb', width: 1 } },
        name: row === 2 ? 'Year' : '', nameLocation: 'middle', nameGap: 38,
        nameTextStyle: { color: '#444', fontSize: 19, fontFamily: tickFont }
    });
    yAxes.push({
        type: 'value', gridIndex: p, min: yRanges[p][0], max: yRanges[p][1],
        axisLine: { show: false },
        axisTick: { show: false, customValues: yTicks[p] },
        axisLabel: { customValues: yTicks[p], color: '#444', fontSize: 16, fontFamily: tickFont, margin: 7, formatter: minusSign },
        splitLine: { show: true, lineStyle: { color: '#ebebeb', width: 1 } },
        name: p === 3 ? 'Average firn temperature (\u00b0C)' : '', nameLocation: 'middle', nameGap: 46, nameRotate: 90,
        nameTextStyle: { color: '#444', fontSize: 19, fontFamily: tickFont }
    });
    for (var k = 0; k < 9; k++) {
        var w = row === 0 ? (k >= 6 ? bandWidth[col] : 2) : 2.5;
        var s = {
            name: models[k], type: 'line', xAxisIndex: p, yAxisIndex: p,
            data: panelData[p][k], showSymbol: false, symbol: 'none', silent: true, animation: false,
            lineStyle: { color: colors[k], width: w, join: 'bevel' }, itemStyle: { color: colors[k] }
        };
        if (k === 0 && zeroLinePanels.indexOf(p) >= 0) {
            s.markLine = { silent: true, symbol: 'none', animation: false, label: { show: false },
                lineStyle: { color: '#888', width: 2, type: 'solid' }, data: [{ yAxis: 0 }] };
        }
        series.push(s);
    }
    // black frame and panel label
    graphics.push({ type: 'rect', z: 100, silent: true, shape: { x: b[0], y: b[1], width: b[2], height: b[3] },
        style: { fill: 'none', stroke: '#000', lineWidth: 3 } });
    graphics.push({ type: 'text', z: 101, silent: true, x: b[0] + 2, y: b[1] + b[3] - 1,
        style: { text: panelLabels[p], fill: '#000', font: 'bold 23px "DejaVu Serif"', verticalAlign: 'bottom', textVerticalAlign: 'bottom' } });
}

var legendBase = { orient: 'vertical', top: 9, padding: 0, itemWidth: 28, itemHeight: 4, itemGap: 13, icon: 'rect',
    textStyle: { color: '#444', fontSize: 15, fontFamily: 'Liberation Sans', lineHeight: 17 } };
function legendCol(left, names) {
    var l = echarts.util.clone(legendBase);
    l.left = left; l.data = names;
    return l;
}

var myChart = echarts.init(document.getElementById('chart'), null, { width: 1180, height: 773, renderer: 'canvas' });
var option = {
    backgroundColor: '#fff',
    animation: false,
    title: [
        { text: sites[0], left: 326, top: 122, textAlign: 'center', textStyle: { fontSize: 20, fontWeight: 'normal', color: '#444', fontFamily: tickFont } },
        { text: sites[1], left: 733, top: 122, textAlign: 'center', textStyle: { fontSize: 20, fontWeight: 'normal', color: '#444', fontFamily: tickFont } },
        { text: sites[2], left: 1118, top: 122, textAlign: 'center', textStyle: { fontSize: 20, fontWeight: 'normal', color: '#444', fontFamily: tickFont } }
    ],
    legend: [
        legendCol(239, ['CFM-Cr', 'DMIHH', 'MeyerHewitt']),
        legendCol(410, ['CFM-KM', 'GEUS', 'UppsalaUniBucket']),
        legendCol(582, ['DTU', 'IMAUFDM', 'UppsalaUniDeepPerc'])
    ],
    grid: grids,
    xAxis: xAxes,
    yAxis: yAxes,
    series: series,
    graphic: graphics
};
myChart.setOption(option);
</script>
</body>
</html>
